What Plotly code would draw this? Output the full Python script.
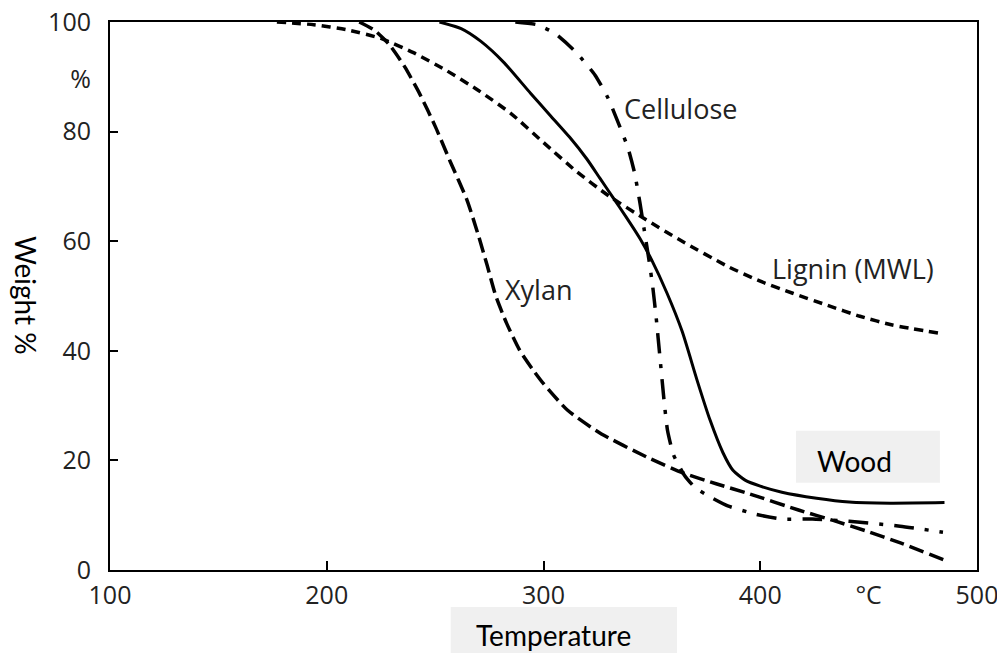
import plotly.graph_objects as go

# TGA curves: temperature (°C) vs weight (%)
wood_t = [252, 262, 271, 282, 294, 303, 312, 320, 326, 332, 338, 344.5, 350,
          357, 364, 370.8, 376.8, 382.8, 387.4, 393, 400, 410, 426, 441, 460, 485]
wood_w = [100, 98.8, 96.5, 92.5, 87.0, 83.0, 79.0, 75.0, 71.5, 68.0, 64.5, 60.5, 56.5,
          50.5, 43.5, 34.7, 27.4, 21.4, 18.2, 16.4, 15.3, 14.2, 13.1, 12.4, 12.2, 12.3]

cellulose_t = [287, 297, 305, 315, 323.8, 329.8, 335.3, 339, 342, 344.5, 346.5,
               348.5, 350.3, 352, 353.8, 355.6, 357.2, 360, 365, 370, 378, 385,
               397.6, 410, 424, 441, 464.5, 484.3]
cellulose_w = [100, 99.5, 98.0, 94.5, 90.3, 86.1, 80.8, 77.0, 72.5, 67.0, 62.0,
               57.0, 52.0, 46.0, 38.5, 31.0, 25.5, 21.0, 17.3, 15.0, 13.1, 11.7,
               10.2, 9.3, 9.3, 8.9, 8.0, 6.9]

lignin_t = [177, 194, 209, 225, 240, 255, 270, 285, 300, 315, 330, 347, 363,
            385, 400, 415, 431, 446, 461, 483]
lignin_w = [100, 99.5, 98.6, 97.0, 94.4, 91.2, 87.5, 83.3, 78.0, 72.8, 68.3, 64.0, 60.2,
            55.4, 52.7, 50.5, 48.3, 46.3, 44.7, 43.2]

xylan_t = [215, 222, 229, 236, 243, 250, 257, 264.7, 270, 274, 278, 283, 289,
           295, 300, 311, 326, 347.7, 364.4, 380, 395, 418, 434, 449, 465, 485]
xylan_w = [100, 98.5, 95.8, 91.8, 86.8, 81.0, 74.5, 67.5, 61.0, 55.6, 50.0, 45.0, 40.1,
           36.6, 34.0, 29.2, 25.0, 20.6, 17.7, 15.7, 13.9, 10.9, 9.0, 7.1, 4.9, 1.8]

x_ticks = [100, 200, 300, 400, 450, 500]
x_labels = ["100", "200", "300", "400", "°C", "500"]
y_ticks = [0, 20, 40, 60, 80, 89.5, 100]
y_labels = ["0", "20", "40", "60", "80", "%", "100"]

tick_font = dict(family="Open Sans", size=25, color="#222")
label_font = dict(family="Open Sans", size=27, color="#222")
box_font = dict(family="Lato", size=28, color="black")

fig = go.Figure()
fig.add_trace(go.Scatter(x=wood_t, y=wood_w, mode="lines", name="Wood",
                         line=dict(color="black", width=3, shape="spline", smoothing=0.6)))
fig.add_trace(go.Scatter(x=cellulose_t, y=cellulose_w, mode="lines", name="Cellulose",
                         line=dict(color="black", width=3.5, dash="20px,11px,4px,11px",
                                   shape="spline", smoothing=0.5)))
fig.add_trace(go.Scatter(x=lignin_t, y=lignin_w, mode="lines", name="Lignin (MWL)",
                         line=dict(color="black", width=3.5, dash="9px,6px",
                                   shape="spline", smoothing=0.6)))
fig.add_trace(go.Scatter(x=xylan_t, y=xylan_w, mode="lines", name="Xylan",
                         line=dict(color="black", width=3.5, dash="15px,6px",
                                   shape="spline", smoothing=0.6)))

# the page adds an 8px body margin, so the figure is 8px smaller than the window
fig.update_layout(
    width=997, height=645,
    margin=dict(l=102, r=28, t=14, b=83),
    paper_bgcolor="white", plot_bgcolor="white",
    showlegend=False,
    xaxis=dict(
        range=[100, 500], showgrid=False, zeroline=False, automargin=False,
        showline=True, mirror=True, linecolor="black", linewidth=2,
        tickmode="array", tickvals=x_ticks, ticktext=x_labels, ticks="",
        tickfont=tick_font, ticklabelstandoff=2, ticklabeloverflow="allow",
        minor=dict(tickmode="array", tickvals=[200, 300, 400], ticks="inside",
                   ticklen=9, tickwidth=2, tickcolor="black", showgrid=False),
    ),
    yaxis=dict(
        range=[0, 100], showgrid=False, zeroline=False, automargin=False,
        showline=True, mirror=True, linecolor="black", linewidth=2,
        tickmode="array", tickvals=y_ticks, ticktext=y_labels, ticks="",
        tickfont=tick_font, ticklabelstandoff=12, ticklabeloverflow="allow",
        minor=dict(tickmode="array", tickvals=[20, 40, 60, 80], ticks="inside",
                   ticklen=8, tickwidth=2, tickcolor="black", showgrid=False),
    ),
    shapes=[
        dict(type="rect", xref="x", yref="y", x0=416.5, x1=482.9, y0=15.9, y1=25.4,
             fillcolor="#f0f0f0", line=dict(width=0), layer="below"),
        dict(type="rect", xref="paper", yref="paper", x0=0.393, x1=0.654,
             y0=-0.17, y1=-0.0675, fillcolor="#f0f0f0", line=dict(width=0), layer="above"),
    ],
)

fig.add_annotation(x=336, y=84.3, text="Cellulose", showarrow=False,
                   xanchor="left", yanchor="middle", font=label_font)
fig.add_annotation(x=281.3, y=51.1, text="Xylan", showarrow=False,
                   xanchor="left", yanchor="middle", font=label_font)
fig.add_annotation(x=404.5, y=55.1, text="Lignin (MWL)", showarrow=False,
                   xanchor="left", yanchor="middle", font=label_font)
fig.add_annotation(x=443.5, y=19.9, text="Wood", showarrow=False,
                   xanchor="center", yanchor="middle", font=box_font)
fig.add_annotation(xref="paper", yref="paper", x=0.511, y=-0.118, text="Temperature",
                   xanchor="center", yanchor="middle", showarrow=False, font=box_font)
fig.add_annotation(xref="paper", yref="paper", x=-0.097, y=0.5, text="Weight %",
                   xanchor="center", yanchor="middle", textangle=90,
                   showarrow=False, font=box_font)

fig.write_html("out.html")
